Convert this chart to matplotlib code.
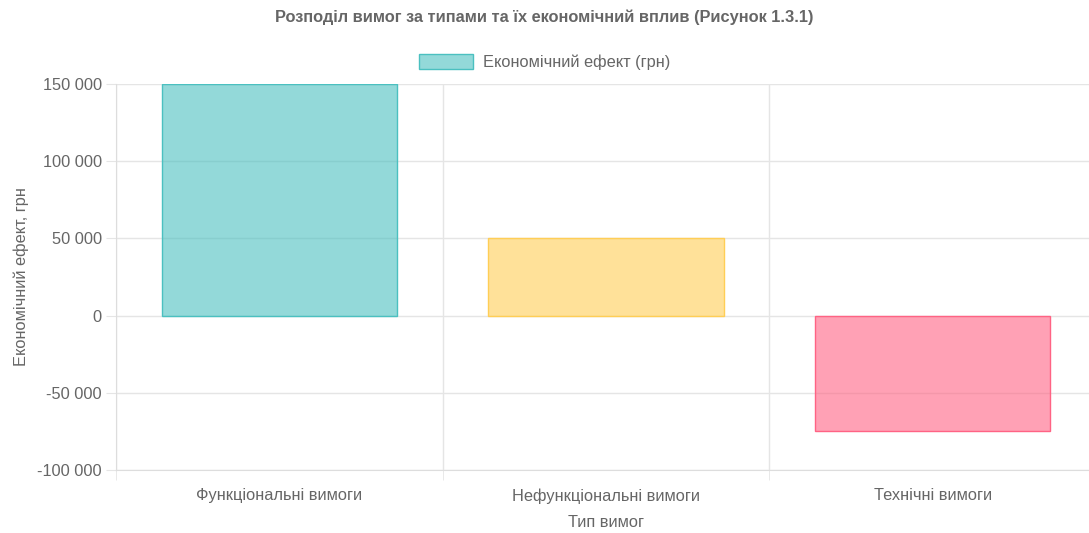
import matplotlib.pyplot as plt
from matplotlib.patches import Patch
import numpy as np

plt.rcParams['font.family'] = ['Liberation Sans', 'DejaVu Sans']

categories = ["Функціональні вимоги", "Нефункціональні вимоги", "Технічні вимоги"]
effect = [150000, 50000, -75000]
fills = [(75/255, 192/255, 192/255, 0.6), (255/255, 206/255, 86/255, 0.6), (255/255, 99/255, 132/255, 0.6)]
edges = [(75/255, 192/255, 192/255), (255/255, 206/255, 86/255), (255/255, 99/255, 132/255)]
yticks = [-100000, -50000, 0, 50000, 100000, 150000]

txt = '#666666'
grid = '#e5e5e5'
fs = 11.8

fig = plt.figure(figsize=(10.89, 5.33), dpi=100)
# plot area runs slightly past the right edge of the canvas
ax = fig.add_axes([116/1089, 1 - 470/533, 980/1089, 386/533])

x = np.arange(len(categories))
ax.bar(x, effect, width=0.72, color=fills, edgecolor=edges, linewidth=1, zorder=3)

ax.set_xlim(-0.5, len(categories) - 0.5)
ax.set_ylim(-100000, 150000)
ax.set_yticks(yticks)
ax.set_yticklabels([f"{v:,}".replace(",", " ") for v in yticks])
ax.set_xticks(x)
ax.set_xticklabels(categories)
ax.set_xticks(np.arange(len(categories) + 1) - 0.5, minor=True)

ax.tick_params(axis='y', length=7.2, color=grid, labelsize=fs, labelcolor=txt, pad=3)
ax.tick_params(axis='x', which='major', length=0, labelsize=fs, labelcolor=txt, pad=13)
ax.tick_params(axis='x', which='minor', length=7.2, color=grid)
ax.grid(axis='y', color=grid, linewidth=1, zorder=0)
ax.grid(axis='x', which='minor', color=grid, linewidth=1, zorder=0)

for s in ['top', 'right']:
    ax.spines[s].set_visible(False)
for s in ['left', 'bottom']:
    ax.spines[s].set_color('#dddddd')

ax.set_ylabel("Економічний ефект, грн", fontsize=fs, color=txt, labelpad=6)
ax.set_xlabel("Тип вимог", fontsize=fs, color=txt, labelpad=8)

fig.text(0.5, 1 - 17/533, "Розподіл вимог за типами та їх економічний вплив (Рисунок 1.3.1)",
         ha='center', va='center', fontsize=fs, fontweight='bold', color=txt)

handle = Patch(facecolor=fills[0], edgecolor=edges[0], linewidth=1)
fig.legend([handle], ["Економічний ефект (грн)"], loc='center',
           bbox_to_anchor=(0.5, 1 - 62/533), frameon=False, fontsize=fs,
           labelcolor=txt, handlelength=3.3, handleheight=1.0, handletextpad=0.6)

fig.savefig("out.png", dpi=100)
